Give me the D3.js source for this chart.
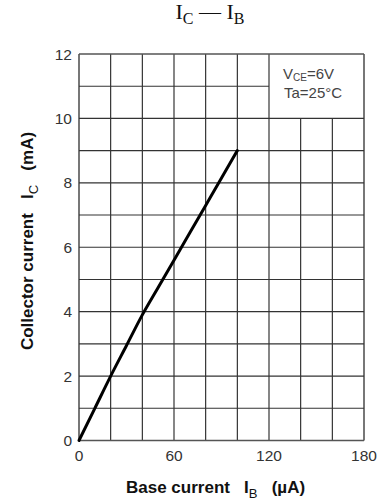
<!DOCTYPE html>
<html>
<head>
<meta charset="utf-8">
<script src="https://cdn.jsdelivr.net/npm/d3@7"></script>
<style>
  html, body { margin: 0; padding: 0; background: #fff; }
  svg { display: block; }
</style>
</head>
<body>
<svg id="chart" width="385" height="503"></svg>
<script>
// ---- data ----
const ibValues = [0, 10, 20, 30, 40, 50, 60, 70, 80, 90, 100];          // Base current IB (µA)
const icValues = [0, 1.0, 2.0, 2.95, 3.9, 4.75, 5.6, 6.45, 7.3, 8.15, 9.0]; // Collector current IC (mA)
const xTicks = [0, 60, 120, 180];
const yTicks = [0, 2, 4, 6, 8, 10, 12];
const xGrid = [0, 20, 40, 60, 80, 100, 120, 140, 160, 180];
const yGrid = [0, 1, 2, 3, 4, 5, 6, 7, 8, 9, 10, 11, 12];
const legendBox = { x0: 120, x1: 180, y0: 10, y1: 12 };

// ---- layout ----
const svg = d3.select("#chart");
const x = d3.scaleLinear().domain([0, 180]).range([79, 364]);
const y = d3.scaleLinear().domain([0, 12]).range([440.5, 54]);
const sans = "'Liberation Sans', Arial, Helvetica, sans-serif";
const serif = "'Liberation Serif', 'Times New Roman', serif";
const NB = "\u00a0";

// grid: vertical lines
const g = svg.append("g");
g.selectAll("line.v").data(xGrid).enter().append("line")
  .attr("x1", d => x(d)).attr("x2", d => x(d))
  .attr("y1", d => (d > legendBox.x0 && d < legendBox.x1) ? y(legendBox.y0) : y(12))
  .attr("y2", y(0))
  .attr("stroke", d => (d === 0 || d === 180) ? "#555" : "#222")
  .attr("stroke-width", d => (d === 0 || d === 180) ? 1.6 : 1.1);

// grid: horizontal lines
g.selectAll("line.h").data(yGrid).enter().append("line")
  .attr("y1", d => y(d)).attr("y2", d => y(d))
  .attr("x1", x(0))
  .attr("x2", d => (d > legendBox.y0 && d < legendBox.y1) ? x(legendBox.x0) : x(180))
  .attr("stroke", d => (d === 0 || d === 12) ? "#555" : "#333")
  .attr("stroke-width", d => (d === 0 || d === 12) ? 1.6 : 1.1);

// curve
const line = d3.line().x((d, i) => x(ibValues[i])).y(d => y(d)).curve(d3.curveMonotoneX);
svg.append("path")
  .datum(icValues)
  .attr("d", line)
  .attr("fill", "none")
  .attr("stroke", "#000")
  .attr("stroke-width", 3)
  .attr("stroke-linecap", "round");

// tick labels
svg.append("g").selectAll("text").data(yTicks).enter().append("text")
  .attr("x", 72).attr("y", d => y(d)).attr("dy", "0.36em")
  .attr("text-anchor", "end")
  .attr("font-family", sans).attr("font-size", 15.5).attr("fill", "#333")
  .text(d => d);

svg.append("g").selectAll("text").data(xTicks).enter().append("text")
  .attr("x", d => x(d)).attr("y", 461)
  .attr("text-anchor", "middle")
  .attr("font-family", sans).attr("font-size", 15.5).attr("fill", "#333")
  .text(d => d);

// title
const title = svg.append("text")
  .attr("x", 210).attr("y", 19)
  .attr("text-anchor", "middle")
  .attr("font-family", serif).attr("font-size", 22).attr("fill", "#111");
title.append("tspan").text("I");
title.append("tspan").attr("font-size", 16).attr("dy", 5).text("C");
title.append("tspan").attr("dy", -5).text(NB + "— I");
title.append("tspan").attr("font-size", 16).attr("dy", 5).text("B");

// x axis title
const xt = svg.append("text")
  .attr("x", 126).attr("y", 493)
  .attr("font-family", sans).attr("font-size", 17).attr("font-weight", "bold").attr("fill", "#111");
xt.append("tspan").text("Base current" + NB + NB + NB + "I");
xt.append("tspan").attr("font-size", 13).attr("font-weight", "normal").attr("dy", 5).text("B");
xt.append("tspan").attr("dy", -5).text(NB + NB + NB + "(µA)");

// y axis title
const yt = svg.append("text")
  .attr("transform", "translate(33,241) rotate(-90)")
  .attr("text-anchor", "middle")
  .attr("font-family", sans).attr("font-size", 17).attr("font-weight", "bold").attr("fill", "#111");
yt.append("tspan").text("Collector current" + NB + NB + NB + "I");
yt.append("tspan").attr("font-size", 13).attr("font-weight", "normal").attr("dy", 5).text("C");
yt.append("tspan").attr("dy", -5).text(NB + NB + NB + "(mA)");

// conditions text
const c1 = svg.append("text")
  .attr("x", 283).attr("y", 79)
  .attr("font-family", sans).attr("font-size", 15).attr("fill", "#444");
c1.append("tspan").text("V");
c1.append("tspan").attr("font-size", 10).attr("dy", 2).text("CE");
c1.append("tspan").attr("dy", -2).text("=6V");
svg.append("text")
  .attr("x", 284).attr("y", 98)
  .attr("font-family", sans).attr("font-size", 15).attr("fill", "#444")
  .text("Ta=25°C");
</script>
</body>
</html>
